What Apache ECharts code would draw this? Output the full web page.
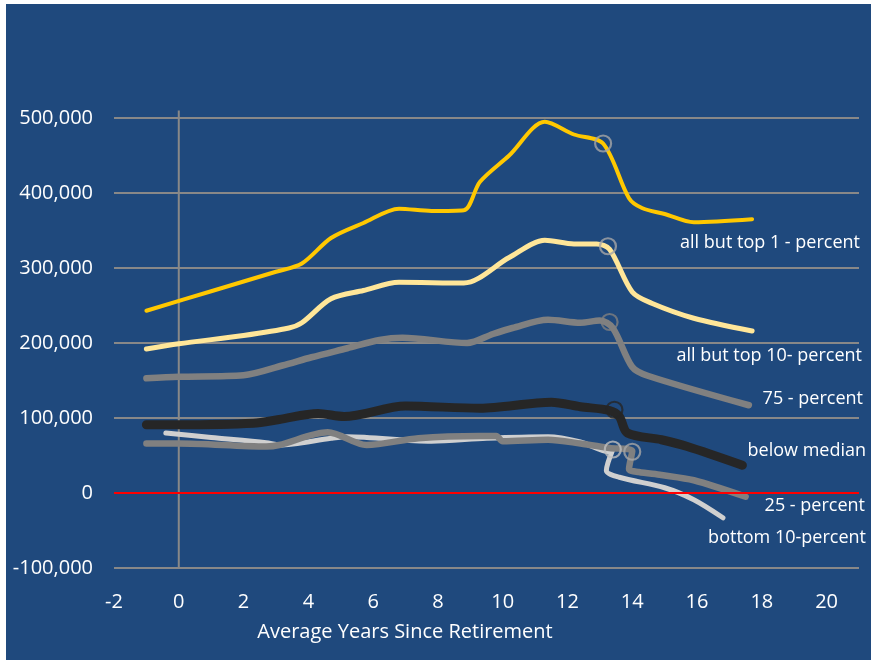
<!DOCTYPE html>
<html>
<head>
<meta charset="utf-8">
<script src="https://cdn.jsdelivr.net/npm/echarts@6/dist/echarts.min.js"></script>
<style>
  html, body { margin: 0; padding: 0; background: #ffffff; }
  #chart { position: absolute; left: 6px; top: 4px; width: 865px; height: 656px; }
</style>
</head>
<body>
<div id="chart"></div>
<script>
// Wealth paths by percentile, in dollars, against average years since retirement
const allButTop1 = [[-1,243000],[1,269000],[3,295000],[3.8,306000],[4.7,340000],[5.7,360000],[6.8,379000],[7.8,376000],[8.8,377000],[9.3,415000],[10.2,450000],[11.3,495000],[12.2,478000],[13.1,466000],[13.9,393000],[14.3,380000],[15.0,372000],[15.9,361000],[17.7,365000]];
const allButTop10 = [[-1,192000],[0,199000],[2,210000],[3.4,220000],[3.8,227000],[4.7,259000],[5.7,270000],[6.8,281000],[8.8,280000],[10.2,314000],[11.3,337000],[12.2,332000],[12.9,332000],[13.3,325000],[14.0,268000],[14.6,253000],[15.9,233000],[17.7,216000]];
const pct75 = [[-1,153000],[0,155000],[2,157000],[3.2,170000],[4.1,181000],[5.2,193000],[6.2,204000],[6.9,207000],[8.9,200000],[9.7,212000],[10.3,220000],[11.4,231000],[12.4,227000],[13.0,230000],[13.4,220000],[14.0,168000],[14.5,156000],[17.6,117000]];
const belowMedian = [[-1,91000],[0,91000],[2.3,93000],[3.1,98000],[4.3,106000],[5.1,102000],[7.0,116000],[9.3,113000],[11.5,121000],[12.4,115000],[13.3,110000],[13.6,102000],[13.85,80000],[14.9,71000],[15.7,62000],[17.4,37000]];
const pct25 = [[-1,66000],[0,66000],[2.7,62000],[3.1,64000],[4.6,81000],[5.8,64000],[7.4,73000],[9.3,76000],[9.8,76000],[10.0,69000],[11.4,71000],[12.4,66000],[13.3,60000],[14.0,56000],[13.9,32000],[14.2,28000],[14.9,24000],[15.9,17000],[17.5,-5000]];
const bottom10 = [[-0.4,80000],[1,74000],[2.7,67000],[3.1,64000],[4.7,73000],[5.2,75000],[7.8,69000],[9.5,73000],[11.4,75000],[12.4,68000],[13.3,55000],[13.4,58000],[13.2,30000],[13.6,21000],[15.0,7000],[15.9,-9000],[16.8,-33000]];

// Retirement points ringed on each path
const ringPoints = [[13.1,466000],[13.25,329000],[13.3,228000],[13.45,111000],[13.4,58000],[14.0,55000]];
const ringColors = ['#A6A6A6','#A6A6A6','#808080','#262626','#BFBFBF','#A6A6A6'];

// Axis ranges
const xRange = [-2, 21];
const xStep = 2;
const yRange = [-100000, 500000];
const yStep = 100000;
const yAxisLineTop = 510000;

// Path labels at the right edge
const pathLabels = ['all but top 1 - percent','all but top 10- percent','75 - percent','below median','25 - percent','bottom 10-percent'];
const xTitle = 'Average Years Since Retirement';

const FONT = '"Open Sans", "Noto Sans", sans-serif';
const chart = echarts.init(document.getElementById('chart'), null, { renderer: 'canvas' });

function pathSeries(name, data, color, width, z) {
  return {
    name, type: 'line', data, smooth: 0.3, showSymbol: false, symbol: 'none',
    lineStyle: { color, width, cap: 'round', join: 'round' },
    z, silent: true, animation: false
  };
}

const labelPos = [
  [854, 239], [856, 352], [857, 395], [860, 447], [859, 502], [860, 534]
];

chart.setOption({
  backgroundColor: '#1F497D',
  animation: false,
  grid: { left: 108, top: 114, right: 12, bottom: 92, containLabel: false },
  xAxis: {
    type: 'value', min: xRange[0], max: xRange[1], interval: xStep,
    axisLine: { show: false }, axisTick: { show: false }, splitLine: { show: false },
    axisLabel: {
      color: '#FFFFFF', fontFamily: FONT, fontSize: 20, margin: 24,
      formatter: v => (v % xStep === 0 ? String(v) : '')
    }
  },
  yAxis: {
    type: 'value', min: yRange[0], max: yRange[1], interval: yStep,
    axisLine: { show: false }, axisTick: { show: false },
    splitLine: { lineStyle: { color: '#888888', width: 2 } },
    axisLabel: {
      color: '#FFFFFF', fontFamily: FONT, fontSize: 20, margin: 21,
      formatter: v => v.toLocaleString('en-US')
    }
  },
  series: [
    {
      name: 'yAxisLine', type: 'line', data: [[0, yRange[0]], [0, yAxisLineTop]],
      clip: false, showSymbol: false, symbol: 'none',
      lineStyle: { color: '#888888', width: 2 }, z: 1, silent: true
    },
    pathSeries('all but top 1 - percent', allButTop1, '#FFC800', 4, 3),
    pathSeries('all but top 10- percent', allButTop10, '#FFE699', 5, 3),
    pathSeries('75 - percent', pct75, '#808080', 6.5, 3),
    pathSeries('bottom 10-percent', bottom10, '#D0D0D0', 5, 3),
    pathSeries('25 - percent', pct25, '#808080', 6.5, 4),
    pathSeries('below median', belowMedian, '#262626', 9, 5),
    {
      name: 'zero', type: 'line', data: [[xRange[0], 0], [xRange[1], 0]],
      showSymbol: false, symbol: 'none',
      lineStyle: { color: '#FF0000', width: 2 }, z: 6, silent: true
    },
    {
      name: 'retirement', type: 'scatter', symbol: 'circle', symbolSize: 16,
      data: ringPoints.map((p, i) => ({
        value: p,
        itemStyle: { color: 'rgba(0,0,0,0)', borderColor: ringColors[i], borderWidth: 2.2 }
      })),
      z: 7, silent: true
    }
  ],
  graphic: [
    {
      type: 'text', x: 399, y: 628,
      style: { text: xTitle, fill: '#FFFFFF', font: '20px ' + FONT, align: 'center', verticalAlign: 'middle' }
    }
  ].concat(pathLabels.map((t, i) => ({
    type: 'text', x: labelPos[i][0], y: labelPos[i][1],
    style: { text: t, fill: '#FFFFFF', font: '18px ' + FONT, align: 'right', verticalAlign: 'middle' }
  })))
});
</script>
</body>
</html>
